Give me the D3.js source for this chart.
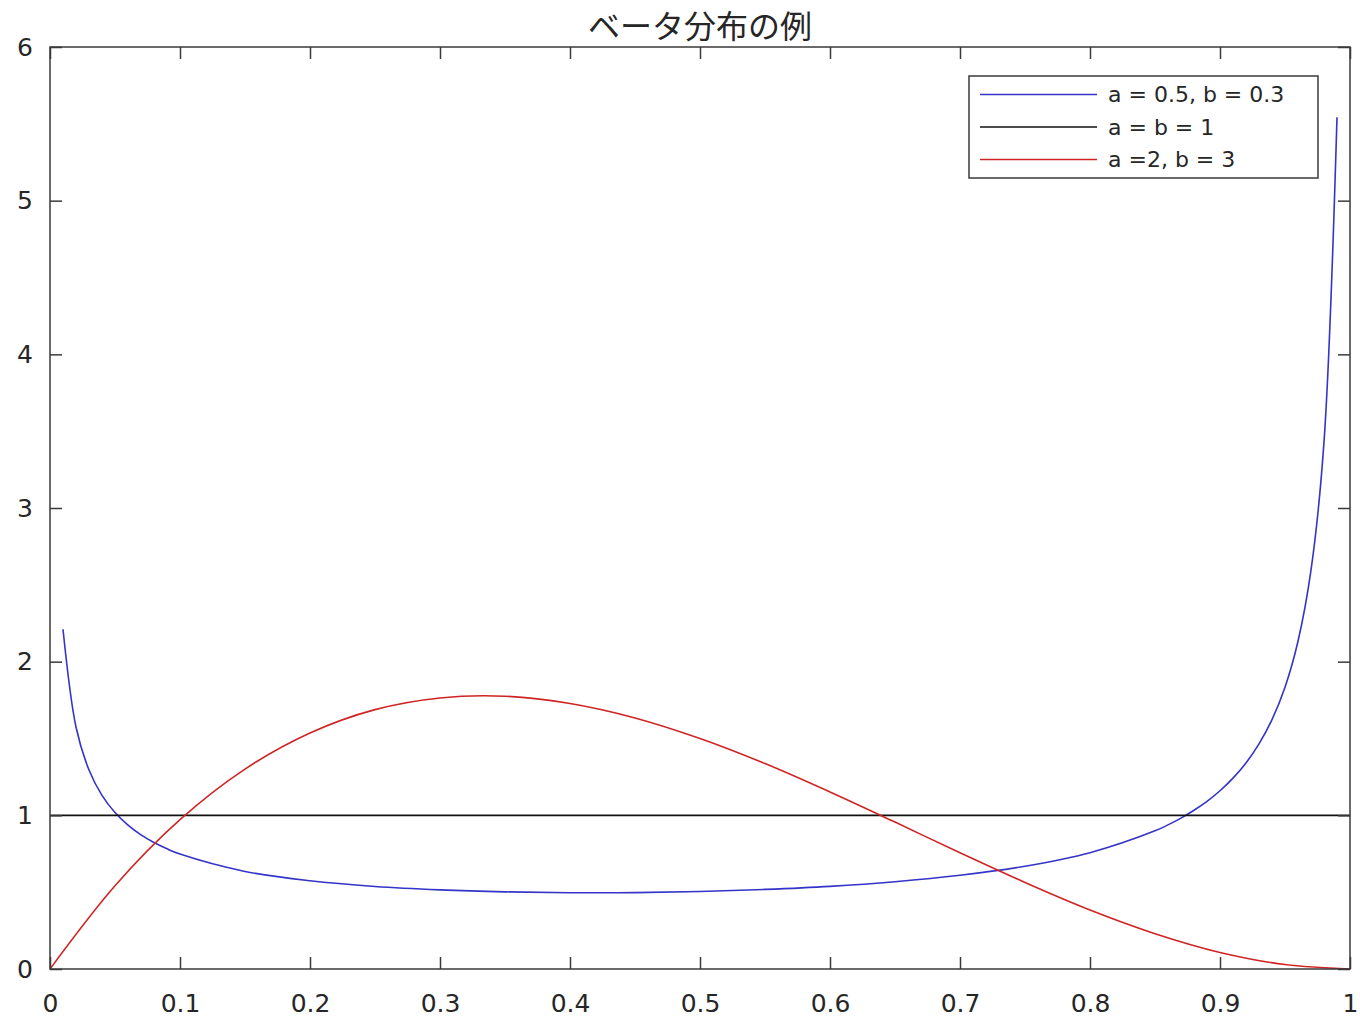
<!DOCTYPE html>
<html>
<head>
<meta charset="utf-8">
<script src="https://cdn.jsdelivr.net/npm/d3@7"></script>
<style>
  body { margin: 0; background: #fff; }
  svg text { font-family: "DejaVu Sans", "Noto Sans CJK JP", sans-serif; fill: #262626; }
  svg text.title { font-family: "Noto Sans CJK JP", sans-serif; }
</style>
</head>
<body>
<svg id="chart" width="1360" height="1019"></svg>
<script>
const title = 'ベータ分布の例'
const xTicks = [0, 0.1, 0.2, 0.3, 0.4, 0.5, 0.6, 0.7, 0.8, 0.9, 1]
const yTicks = [0, 1, 2, 3, 4, 5, 6]

// a = 0.5, b = 0.3
const blueX = [0.01, 0.02, 0.03, 0.04, 0.05, 0.06, 0.07, 0.08, 0.09, 0.10, 0.15, 0.20, 0.25, 0.30,
  0.35, 0.40, 0.45, 0.50, 0.55, 0.60, 0.65, 0.70, 0.75, 0.80, 0.85, 0.86, 0.87, 0.88, 0.89, 0.90,
  0.91, 0.92, 0.93, 0.94, 0.95, 0.96, 0.97, 0.98, 0.99]
const blueY = [2.211, 1.575, 1.295, 1.130, 1.018, 0.936, 0.873, 0.823, 0.782, 0.748, 0.635, 0.574,
  0.537, 0.515, 0.502, 0.496, 0.497, 0.504, 0.518, 0.538, 0.568, 0.610, 0.669, 0.757, 0.899, 0.938,
  0.982, 1.033, 1.091, 1.160, 1.242, 1.341, 1.465, 1.623, 1.834, 2.133, 2.595, 3.430, 5.543]

// a = b = 1
const blackX = [0, 1]
const blackY = [1, 1]

// a = 2, b = 3
const redX = [0, 0.05, 0.1, 0.15, 0.2, 0.25, 0.3, 0.35, 0.4, 0.45, 0.5, 0.55, 0.6, 0.65, 0.7,
  0.75, 0.8, 0.85, 0.9, 0.95, 1]
const redY = [0, 0.542, 0.972, 1.301, 1.536, 1.688, 1.764, 1.775, 1.728, 1.634, 1.5, 1.337, 1.152,
  0.956, 0.756, 0.563, 0.384, 0.230, 0.108, 0.029, 0]

const legendLabels = ['a = 0.5, b = 0.3', 'a = b = 1', 'a =2, b = 3']

const series = [
  {x: blueX, y: blueY, color: '#3434c8', curve: d3.curveCatmullRom.alpha(0.5)},
  {x: blackX, y: blackY, color: '#111111', curve: d3.curveLinear},
  {x: redX, y: redY, color: '#d02424', curve: d3.curveCatmullRom.alpha(0.5)}
]

const margin = {top: 47, right: 10, bottom: 50, left: 50}
const W = 1360, H = 1019
const svg = d3.select('#chart')
const innerW = W - margin.left - margin.right
const innerH = H - margin.top - margin.bottom

const x = d3.scaleLinear().domain([0, 1]).range([margin.left, margin.left + innerW])
const y = d3.scaleLinear().domain([0, 6]).range([margin.top + innerH, margin.top])

const axisColor = '#3a3a3a'
const tickLen = 12

// lines (clipped to axes)
svg.append('clipPath').attr('id', 'plotClip')
  .append('rect').attr('x', x(0)).attr('y', y(6)).attr('width', innerW).attr('height', innerH)

const plot = svg.append('g').attr('clip-path', 'url(#plotClip)')
series.forEach(s => {
  const pts = s.x.map((v, i) => [v, s.y[i]])
  plot.append('path')
    .attr('d', d3.line().x(d => x(d[0])).y(d => y(d[1])).curve(s.curve)(pts))
    .attr('fill', 'none').attr('stroke', s.color).attr('stroke-width', 1.6)
})

// box
svg.append('rect')
  .attr('x', x(0)).attr('y', y(6)).attr('width', innerW).attr('height', innerH)
  .attr('fill', 'none').attr('stroke', axisColor).attr('stroke-width', 1.5)

// axes
const gBottom = svg.append('g').attr('transform', `translate(0,${y(0)})`)
  .call(d3.axisBottom(x).tickValues(xTicks).tickSize(-tickLen).tickPadding(25).tickFormat(d3.format('')))
const gTop = svg.append('g').attr('transform', `translate(0,${y(6)})`)
  .call(d3.axisTop(x).tickValues(xTicks).tickSize(-tickLen).tickFormat(''))
const gLeft = svg.append('g').attr('transform', `translate(${x(0)},0)`)
  .call(d3.axisLeft(y).tickValues(yTicks).tickSize(-tickLen).tickPadding(17).tickFormat(d3.format('')))
const gRight = svg.append('g').attr('transform', `translate(${x(1)},0)`)
  .call(d3.axisRight(y).tickValues(yTicks).tickSize(-tickLen).tickFormat(''))

;[gBottom, gTop, gLeft, gRight].forEach(g => {
  g.select('.domain').remove()
  g.selectAll('.tick line').attr('stroke', axisColor).attr('stroke-width', 1.5)
  g.selectAll('.tick text').attr('font-size', 25).attr('fill', '#262626')
})

// title
svg.append('text').attr('class', 'title')
  .attr('x', (x(0) + x(1)) / 2).attr('y', 38)
  .attr('text-anchor', 'middle').attr('font-size', 32)
  .text(title)

// legend
const lg = svg.append('g')
lg.append('rect')
  .attr('x', 969).attr('y', 76).attr('width', 349).attr('height', 102)
  .attr('fill', '#fff').attr('stroke', axisColor).attr('stroke-width', 1.5)
legendLabels.forEach((label, i) => {
  const ly = 94.5 + i * 32.5
  lg.append('line').attr('x1', 980).attr('x2', 1097).attr('y1', ly).attr('y2', ly)
    .attr('stroke', series[i].color).attr('stroke-width', 1.6)
  lg.append('text').attr('x', 1108).attr('y', ly).attr('dy', '0.36em')
    .attr('font-size', 22).text(label)
})
</script>
</body>
</html>
